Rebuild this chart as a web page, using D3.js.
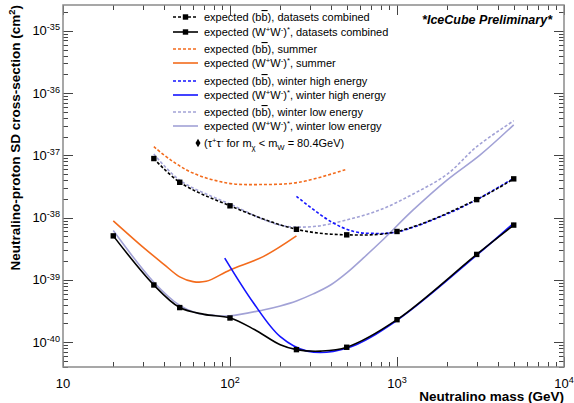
<!DOCTYPE html>
<html>
<head>
<meta charset="utf-8">
<script src="https://cdn.jsdelivr.net/npm/d3@7"></script>
<style>
  body { margin: 0; background: #fff; }
  svg { display: block; font-family: "Liberation Sans", Arial, sans-serif; }
</style>
</head>
<body>
<svg id="chart" width="574" height="403"></svg>
<script>
// ---- data (mass in GeV, cross-section in cm^2) ----
const bbCombMass = [35, 50, 100, 250, 500, 1000, 3000, 5000];
const bbCombSigma = [8.9e-38, 3.7e-38, 1.55e-38, 6.5e-39, 5.3e-39, 6.0e-39, 1.95e-38, 4.2e-38];

const wwCombMass = [20, 35, 50, 70, 100, 140, 200, 250, 350, 500, 1000, 3000, 5000];
const wwCombSigma = [5.1e-39, 8.3e-40, 3.6e-40, 2.8e-40, 2.45e-40, 1.6e-40, 9.1e-41, 7.6e-41, 7.2e-41, 8.3e-41, 2.3e-40, 2.57e-39, 7.6e-39];
const wwCombMarkers = [20, 35, 50, 100, 250, 500, 1000, 3000, 5000];

const bbSummerMass = [35, 44, 60, 96, 150, 260, 500];
const bbSummerSigma = [1.38e-37, 8.5e-38, 5.2e-38, 3.6e-38, 3.4e-38, 3.7e-38, 6.0e-38];

const wwSummerMass = [20, 30, 40, 50, 60, 72, 100, 158, 250];
const wwSummerSigma = [8.9e-39, 3.4e-39, 1.8e-39, 1.12e-39, 9.4e-40, 9.5e-40, 1.45e-39, 2.37e-39, 5.1e-39];

const bbWinterHiMass = [250, 400, 550, 700, 1000, 2000, 3000, 5000];
const bbWinterHiSigma = [2.2e-38, 8.7e-39, 6.0e-39, 5.6e-39, 5.9e-39, 1.15e-38, 1.95e-38, 4.3e-38];

const wwWinterHiMass = [93, 138, 200, 290, 500, 1000, 3000, 5000];
const wwWinterHiSigma = [2.24e-39, 4.3e-40, 1.23e-40, 7.2e-41, 8.0e-41, 2.25e-40, 2.5e-39, 8.2e-39];

const bbWinterLoMass = [35, 50, 100, 200, 316, 500, 800, 1250, 2000, 3000, 5000];
const bbWinterLoSigma = [1.05e-37, 4.0e-38, 1.65e-38, 7.6e-39, 7.2e-39, 9.2e-39, 1.35e-38, 2.4e-38, 5.0e-38, 1.38e-37, 3.6e-37];

const wwWinterLoMass = [20, 35, 50, 63, 80, 100, 158, 200, 250, 315, 400, 500, 630, 800, 1250, 2000, 3150, 5000];
const wwWinterLoSigma = [6.2e-39, 9.2e-40, 3.9e-40, 2.95e-40, 2.7e-40, 2.65e-40, 3.3e-40, 3.83e-40, 4.6e-40, 5.97e-40, 8.3e-40, 1.3e-39, 2.26e-39, 4.1e-39, 1.33e-38, 4.05e-38, 1.02e-37, 3.1e-37];

const xTickLabels = [[10, "10", ""], [100, "10", "2"], [1000, "10", "3"], [10000, "10", "4"]];
const yTickExps = [-35, -36, -37, -38, -39, -40];

// legend text pieces: [text, mode] where mode is "", "sup", "sub" or "over"
const bb = [["expected (b", ""], ["b", "over"], [")", ""]];
const ww = [["expected (W", ""], ["+", "sup"], ["W", ""], ["-", "sup"], [")", ""], ["*", "sup"]];
const legendLabels = [
  [...bb, [", datasets combined", ""]],
  [...ww, [", datasets combined", ""]],
  [...bb, [", summer", ""]],
  [...ww, [", summer", ""]],
  [...bb, [", winter high energy", ""]],
  [...ww, [", winter high energy", ""]],
  [...bb, [", winter low energy", ""]],
  [...ww, [", winter low energy", ""]],
  [["(\u03c4", ""], ["+", "sup"], ["\u03c4", ""], ["-", "sup"], [" for m", ""], ["\u03c7", "sub"], [" < m", ""], ["W", "sub"], [" = 80.4GeV)", ""]]
];

// ---- layout ----
const svg = d3.select("#chart");
const margin = { left: 63, right: 564, top: 5, bottom: 367 };

const x = d3.scaleLog().domain([10, 1e4]).range([margin.left, margin.right]);
const y = d3.scaleLog().domain([4e-41, 2.6e-35]).range([margin.bottom, margin.top]);

const orange = "#f36b1c", blue = "#1414ff", lav = "#a2a2d6";
const dots = "3,2";

const series = [
  { m: bbWinterLoMass, s: bbWinterLoSigma, color: lav, dash: dots },
  { m: wwWinterLoMass, s: wwWinterLoSigma, color: lav, dash: null },
  { m: bbSummerMass, s: bbSummerSigma, color: orange, dash: dots },
  { m: wwSummerMass, s: wwSummerSigma, color: orange, dash: null },
  { m: bbWinterHiMass, s: bbWinterHiSigma, color: blue, dash: dots },
  { m: wwWinterHiMass, s: wwWinterHiSigma, color: blue, dash: null },
  { m: bbCombMass, s: bbCombSigma, color: "#000", dash: dots, marks: bbCombMass },
  { m: wwCombMass, s: wwCombSigma, color: "#000", dash: null, marks: wwCombMarkers },
];

const line = d3.line()
  .x(d => x(d[0]))
  .y(d => y(d[1]))
  .curve(d3.curveCatmullRom.alpha(0.5));

const plot = svg.append("g");
series.forEach(sr => {
  const pts = sr.m.map((m, i) => [m, sr.s[i]]);
  plot.append("path")
    .attr("d", line(pts))
    .attr("fill", "none")
    .attr("stroke", sr.color)
    .attr("stroke-width", 1.6)
    .attr("stroke-dasharray", sr.dash);
  if (sr.marks) {
    plot.selectAll(null)
      .data(pts.filter(p => sr.marks.includes(p[0])))
      .enter()
      .append("rect")
      .attr("x", d => x(d[0]) - 2.7)
      .attr("y", d => y(d[1]) - 2.7)
      .attr("width", 5.4)
      .attr("height", 5.4)
      .attr("fill", "#000");
  }
});

// ---- frame + ticks (ROOT style, ticks inside on all four sides) ----
const axisCol = "#8a8a8a";
const tickCol = "#444";
const frame = svg.append("g");

const isMajor = v => Math.abs(Math.log10(v) - Math.round(Math.log10(v))) < 1e-6;

x.ticks().forEach(v => {
  const len = isMajor(v) ? 10 : 5;
  const px = Math.round(x(v)) + 0.5;
  frame.append("line").attr("x1", px).attr("x2", px)
    .attr("y1", margin.bottom).attr("y2", margin.bottom - len)
    .attr("stroke", tickCol);
  frame.append("line").attr("x1", px).attr("x2", px)
    .attr("y1", margin.top).attr("y2", margin.top + len)
    .attr("stroke", tickCol);
});

y.ticks().forEach(v => {
  const len = isMajor(v) ? 10 : 5;
  const py = Math.round(y(v)) + 0.5;
  frame.append("line").attr("y1", py).attr("y2", py)
    .attr("x1", margin.left).attr("x2", margin.left + len)
    .attr("stroke", tickCol);
  frame.append("line").attr("y1", py).attr("y2", py)
    .attr("x1", margin.right).attr("x2", margin.right - len)
    .attr("stroke", tickCol);
});

frame.append("rect")
  .attr("x", margin.left).attr("y", margin.top)
  .attr("width", margin.right - margin.left)
  .attr("height", margin.bottom - margin.top)
  .attr("fill", "none")
  .attr("stroke", axisCol)
  .attr("stroke-width", 1.5);

// rich text helper (superscript / subscript / overline)
function rich(sel, parts, size) {
  let shift = 0;
  parts.forEach(([t, mode]) => {
    const target = mode === "sup" ? -size * 0.38 : mode === "sub" ? size * 0.25 : 0;
    const ts = sel.append("tspan").text(t).attr("dy", target - shift);
    shift = target;
    if (mode === "sup" || mode === "sub") ts.attr("font-size", size * 0.7);
    if (mode === "over") ts.style("text-decoration", "overline");
  });
}

// tick labels
xTickLabels.forEach(([v, base, exp]) => {
  const t = svg.append("text")
    .attr("x", x(v))
    .attr("y", 388)
    .attr("text-anchor", "middle")
    .attr("font-size", 13)
    .attr("fill", "#000");
  rich(t, exp ? [[base, ""], [exp, "sup"]] : [[base, ""]], 13);
});

yTickExps.forEach(e => {
  const t = svg.append("text")
    .attr("x", 60)
    .attr("y", y(Math.pow(10, e)) + 4.5)
    .attr("text-anchor", "end")
    .attr("font-size", 13)
    .attr("fill", "#000");
  rich(t, [["10", ""], [String(e), "sup"]], 13);
});

// axis titles
svg.append("text")
  .attr("x", 564)
  .attr("y", 401)
  .attr("text-anchor", "end")
  .attr("font-size", 13.5)
  .attr("font-weight", "bold")
  .text("Neutralino mass (GeV)");

const yt = svg.append("text")
  .attr("transform", "translate(20,5) rotate(-90)")
  .attr("text-anchor", "end")
  .attr("font-size", 13.5)
  .attr("font-weight", "bold");
rich(yt, [["Neutralino-proton SD cross-section (cm", ""], ["2", "sup"], [")", ""]], 13.5);

svg.append("text")
  .attr("x", 552)
  .attr("y", 24)
  .attr("text-anchor", "end")
  .attr("font-size", 12.5)
  .attr("font-weight", "bold")
  .attr("font-style", "italic")
  .text("*IceCube Preliminary*");

// ---- legend ----
const legendY = [17, 32, 49, 63, 81, 95, 112, 126, 143];
const legendStyle = [
  { color: "#000", dash: dots, mark: true },
  { color: "#000", dash: null, mark: true },
  { color: orange, dash: dots },
  { color: orange, dash: null },
  { color: blue, dash: dots },
  { color: blue, dash: null },
  { color: lav, dash: dots },
  { color: lav, dash: null },
  { diamond: true }
];
const leg = svg.append("g");
legendLabels.forEach((parts, i) => {
  const ly = legendY[i];
  const st = legendStyle[i];
  if (st.diamond) {
    leg.append("path")
      .attr("d", d3.symbol(d3.symbolDiamond, 22)())
      .attr("transform", `translate(198,${ly})`)
      .attr("fill", "#000");
  } else {
    leg.append("line")
      .attr("x1", 173).attr("x2", 198)
      .attr("y1", ly).attr("y2", ly)
      .attr("stroke", st.color)
      .attr("stroke-width", 1.6)
      .attr("stroke-dasharray", st.dash);
    if (st.mark) {
      leg.append("rect")
        .attr("x", 185.5 - 2.7).attr("y", ly - 2.7)
        .attr("width", 5.4).attr("height", 5.4)
        .attr("fill", "#000");
    }
  }
  const t = leg.append("text")
    .attr("x", 204)
    .attr("y", ly + 4)
    .attr("font-size", 11)
    .attr("fill", "#000");
  rich(t, parts, 11);
});
</script>
</body>
</html>
